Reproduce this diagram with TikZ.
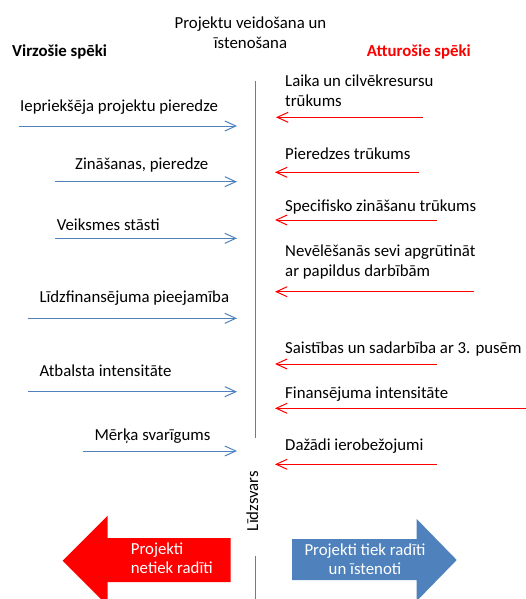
\documentclass[tikz,border=0pt]{standalone}
\usepackage{fontspec}
\setmainfont{Carlito}
\usetikzlibrary{arrows.meta}
\definecolor{ofblue}{HTML}{4F81BD}
\definecolor{ofred}{HTML}{FF0000}
\begin{document}
\begin{tikzpicture}[x=1pt,y=-1pt,
  lbl/.style={font=\fontsize{16.8}{20}\selectfont, inner sep=0pt, anchor=base west, align=left},
  ttl/.style={font=\fontsize{16.8}{20}\selectfont, inner sep=0pt, anchor=base, align=center},
  pro/.style={ofblue, line width=1pt, -{Straight Barb[length=11pt,width=10pt]}},
  con/.style={ofred, line width=1pt, -{Straight Barb[length=11pt,width=10pt]}},
  axis/.style={ofblue, line width=1pt},
  big/.style={font=\fontsize{16.8}{18.5}\selectfont, inner sep=0pt, anchor=base, text=white},
]
\useasboundingbox (0,0) rectangle (525,599);

% title and headings
\node[ttl] (title) at (250.5,48.3) {Projektu veidošana un\\īstenošana};
\node[lbl, font=\fontsize{16.8}{20}\selectfont\bfseries] (pos) at (12,56.7) {Virzošie spēki};
\node[lbl, font=\fontsize{16.8}{20}\selectfont\bfseries, text=ofred] (neg) at (366.7,56.7) {Atturošie spēki};

% central axis
\coordinate (ax1) at (255.7,81);
\coordinate (ax2) at (255.7,438);
\coordinate (ax3) at (255.7,556);
\coordinate (ax4) at (255.7,600);
\draw[axis] (ax1) -- (ax2);
\draw[axis] (ax3) -- (ax4);
\node[font=\fontsize{16.8}{20}\selectfont, rotate=90, inner sep=0pt] (bal) at (252.3,501) {Līdzsvars};

% driving forces (left)
\node[lbl] (p1) at (20,111) {Iepriekšēja projektu pieredze};
\coordinate (p1s) at (19,126); \coordinate (p1e) at (237,126);
\draw[pro] (p1s) -- (p1e);

\node[lbl] (p2) at (75,169.3) {Zināšanas, pieredze};
\coordinate (p2s) at (55,181.7); \coordinate (p2e) at (237,181.7);
\draw[pro] (p2s) -- (p2e);

\node[lbl] (p3) at (56.7,230) {Veiksmes stāsti};
\coordinate (p3s) at (55,238.3); \coordinate (p3e) at (237,238.3);
\draw[pro] (p3s) -- (p3e);

\node[lbl] (p4) at (39.3,302.7) {Līdzfinansējuma pieejamība};
\coordinate (p4s) at (28.3,318.3); \coordinate (p4e) at (237,318.3);
\draw[pro] (p4s) -- (p4e);

\node[lbl] (p5) at (39.3,376) {Atbalsta intensitāte};
\coordinate (p5s) at (28.3,391.7); \coordinate (p5e) at (237,391.7);
\draw[pro] (p5s) -- (p5e);

\node[lbl] (p6) at (94.3,440) {Mērķa svarīgums};
\coordinate (p6s) at (82.7,451); \coordinate (p6e) at (237,451);
\draw[pro] (p6s) -- (p6e);

% restraining forces (right)
\node[lbl] (n1) at (285,106.7) {Laika un cilvēkresursu\\trūkums};
\coordinate (n1s) at (422.7,117.3); \coordinate (n1e) at (276,117.3);
\draw[con] (n1s) -- (n1e);

\node[lbl] (n2) at (285,159.3) {Pieredzes trūkums};
\coordinate (n2s) at (419,172.3); \coordinate (n2e) at (275,172.3);
\draw[con] (n2s) -- (n2e);

\node[lbl] (n3) at (285,211.7) {Specifisko zināšanu trūkums};
\coordinate (n3s) at (437.3,220); \coordinate (n3e) at (275,220);
\draw[con] (n3s) -- (n3e);

\node[lbl] (n4) at (285,276.7) {Nevēlēšanās sevi apgrūtināt\\ar papildus darbībām};
\coordinate (n4s) at (474,291.7); \coordinate (n4e) at (275,291.7);
\draw[con] (n4s) -- (n4e);

\node[lbl] (n5) at (285,353.3) {Saistības un sadarbība ar 3. pusēm};
\coordinate (n5s) at (437.3,364); \coordinate (n5e) at (275,364);
\draw[con] (n5s) -- (n5e);

\node[lbl] (n6) at (285,398.3) {Finansējuma intensitāte};
\coordinate (n6s) at (526,408.3); \coordinate (n6e) at (275,408.3);
\draw[con] (n6s) -- (n6e);

\node[lbl] (n7) at (285,450) {Dažādi ierobežojumi};
\coordinate (n7s) at (437.3,464.3); \coordinate (n7e) at (275,464.3);
\draw[con] (n7s) -- (n7e);

% outcome arrows
\fill[ofred] (62.7,560.7) -- (107.7,515.7) -- (107.7,538) -- (230.7,538)
  -- (230.7,582) -- (107.7,582) -- (107.7,605.7) -- cycle;
\node[big, anchor=base west, align=left] (fail) at (130.7,573.3) {Projekti\\netiek radīti};

\fill[ofblue] (456.7,560) -- (416.7,519) -- (416.7,539) -- (292,539)
  -- (292,580) -- (416.7,580) -- (416.7,601) -- cycle;
\node[big, align=center] (ok) at (365,574) {Projekti tiek radīti\\un īstenoti};
\end{tikzpicture}
\end{document}
